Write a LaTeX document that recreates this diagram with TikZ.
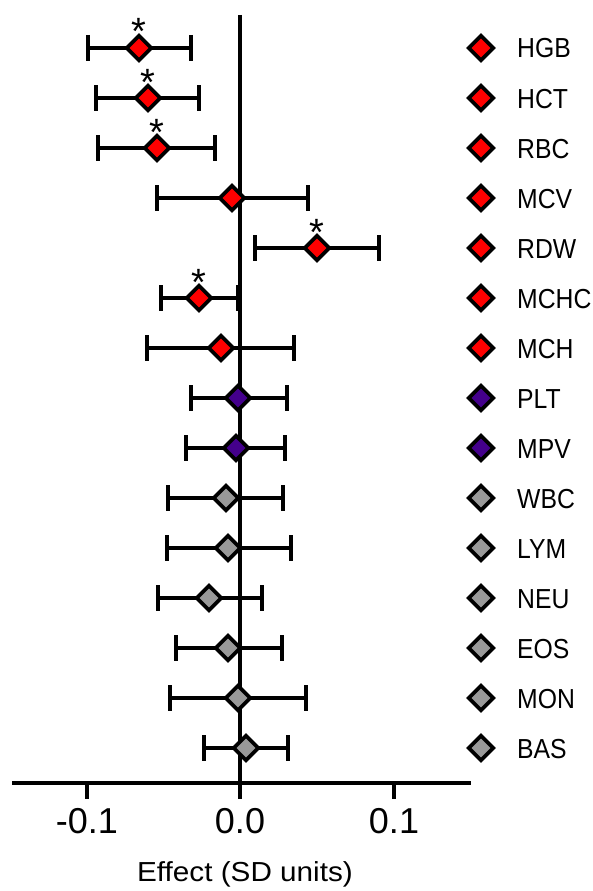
\documentclass[tikz,border=0pt]{standalone}
\usepackage{fontspec}
\setmainfont{Liberation Sans}
\newfontfamily\legf[FakeStretch=0.9]{Liberation Sans}
\newfontfamily\titf[FakeStretch=1.08]{Liberation Sans}
\usetikzlibrary{shapes.geometric}
\definecolor{dred}{RGB}{255,0,0}
\definecolor{dpur}{RGB}{68,0,140}
\definecolor{dgray}{RGB}{153,153,153}
\tikzset{
  axisline/.style={line width=4.8pt},
  barline/.style={line width=4.2pt},
  dmark/.style={shape=diamond, draw=black, line width=3.6pt, inner sep=0pt, minimum width=26pt, minimum height=26pt},
  legtext/.style={font=\legf\fontsize{27.5}{30}\selectfont, inner sep=0pt, anchor=base west},
  ticklab/.style={font=\fontsize{36}{40}\selectfont, inner sep=0pt, anchor=base},
  startext/.style={font=\fontsize{38}{40}\selectfont, inner sep=0pt, anchor=base},
  titlab/.style={font=\titf\fontsize{27.5}{30}\selectfont, inner sep=0pt, anchor=base}
}
\begin{document}
\begin{tikzpicture}[x=1pt,y=-1pt]
\useasboundingbox (0,0) rectangle (593,891);
% axes
\coordinate (ytop) at (240,15);
\coordinate (org) at (240,783);
\coordinate (xl) at (12,783);
\coordinate (xr) at (471,783);
\draw[axisline] (ytop) -- (org);
\draw[axisline] (xl) -- (xr);
\foreach \t/\lab in {87/-0.1,240/0.0,394/0.1}{
  \coordinate (tk\t) at (\t,783);
  \coordinate (tb\t) at (\t,799);
  \draw[axisline] (tk\t) -- (tb\t);
  \node[ticklab] (tl\t) at (\t,833) {\lab};
}
\node[titlab] (title) at (245,881) {Effect (SD units)};
% data
\foreach \i/\name/\c/\lo/\hi/\col in {
  1/HGB/139/88/191/dred,
  2/HCT/148/96/199/dred,
  3/RBC/157/98/215/dred,
  4/MCV/232/157/308/dred,
  5/RDW/317/255/379/dred,
  6/MCHC/199/161/238/dred,
  7/MCH/221/147/294/dred,
  8/PLT/238/191/287/dpur,
  9/MPV/236/186/285/dpur,
  10/WBC/226/168/283/dgray,
  11/LYM/228/167/291/dgray,
  12/NEU/209/158/262/dgray,
  13/EOS/228/176/282/dgray,
  14/MON/238/170/306/dgray,
  15/BAS/246/204/288/dgray}{
  \pgfmathsetmacro\y{48+(\i-1)*50}
  \coordinate (lo\i) at (\lo,\y);
  \coordinate (hi\i) at (\hi,\y);
  \coordinate (lot\i) at (\lo,\y-13);
  \coordinate (lob\i) at (\lo,\y+13);
  \coordinate (hit\i) at (\hi,\y-13);
  \coordinate (hib\i) at (\hi,\y+13);
  \draw[barline] (lo\i) -- (hi\i);
  \draw[barline] (lot\i) -- (lob\i);
  \draw[barline] (hit\i) -- (hib\i);
  \node[dmark, fill=\col] (pt\i) at (\c,\y) {};
  \node[dmark, fill=\col] (lm\i) at (481,\y) {};
  \node[legtext] (lt\i) at (517,\y+10) {\name};
}
% significance stars
\foreach \i/\c in {1/139,2/148,3/157,5/317,6/199}{
  \pgfmathsetmacro\y{48+(\i-1)*50}
  \node[startext] (st\i) at (\c,\y-3) {*};
}
\end{tikzpicture}
\end{document}
